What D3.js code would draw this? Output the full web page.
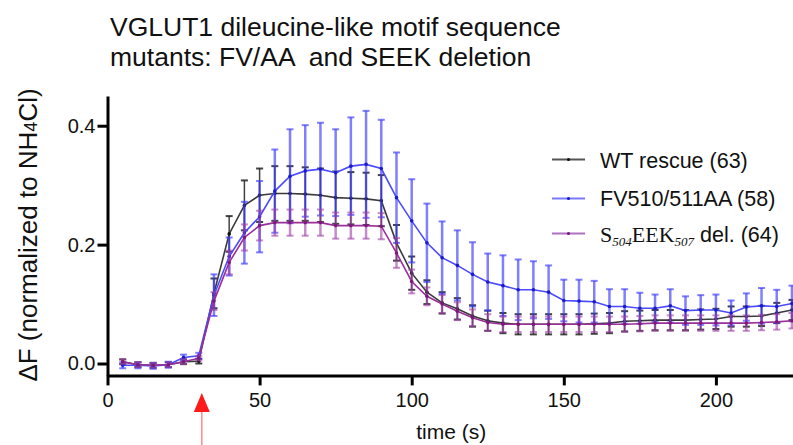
<!DOCTYPE html>
<html>
<head>
<meta charset="utf-8">
<script src="https://cdn.jsdelivr.net/npm/d3@7"></script>
<style>
  html, body { margin: 0; padding: 0; background: #fff; }
  svg { display: block; }
  text { font-family: "Liberation Sans", Arial, Helvetica, sans-serif; }
</style>
</head>
<body>
<svg id="chart" width="793" height="445"></svg>
<script>
// ---------- data ----------
const titleLines = ["VGLUT1 dileucine-like motif sequence", "mutants: FV/AA  and SEEK deletion"];
const times = [5,10,15,20,25,30,35,40,45,50,55,60,65,70,75,80,85,90,95,100,105,110,115,120,125,130,135,140,145,150,155,160,165,170,175,180,185,190,195,200,205,210,215,220,225];

const wtMean = [0.003,-0.002,-0.003,-0.002,0.003,0.004,0.118,0.218,0.266,0.283,0.286,0.286,0.285,0.283,0.279,0.278,0.277,0.274,0.203,0.152,0.120,0.102,0.092,0.080,0.072,0.068,0.066,0.066,0.066,0.066,0.066,0.067,0.068,0.071,0.072,0.073,0.073,0.073,0.074,0.075,0.079,0.079,0.080,0.085,0.090];
const wtErr  = [0.004,0.004,0.004,0.004,0.004,0.004,0.025,0.030,0.042,0.045,0.046,0.046,0.045,0.045,0.044,0.044,0.044,0.043,0.030,0.028,0.020,0.018,0.018,0.018,0.017,0.017,0.017,0.017,0.017,0.017,0.017,0.017,0.017,0.017,0.017,0.017,0.017,0.017,0.017,0.017,0.017,0.017,0.017,0.017,0.017];

const fvMean = [-0.003,-0.003,-0.004,-0.002,0.010,0.013,0.115,0.180,0.220,0.247,0.290,0.315,0.324,0.327,0.321,0.332,0.335,0.328,0.279,0.240,0.203,0.178,0.165,0.150,0.137,0.131,0.124,0.124,0.120,0.106,0.105,0.104,0.096,0.096,0.093,0.093,0.097,0.089,0.090,0.090,0.085,0.095,0.097,0.096,0.101];
const fvErr  = [0.005,0.005,0.005,0.005,0.005,0.005,0.035,0.032,0.052,0.060,0.070,0.079,0.077,0.078,0.073,0.082,0.090,0.082,0.076,0.070,0.066,0.061,0.059,0.054,0.048,0.051,0.051,0.048,0.045,0.035,0.036,0.035,0.029,0.029,0.026,0.023,0.028,0.024,0.025,0.026,0.021,0.023,0.030,0.028,0.030];

const seekMean = [0.003,-0.002,-0.003,-0.002,0.003,0.009,0.105,0.170,0.212,0.232,0.237,0.237,0.237,0.237,0.232,0.232,0.232,0.231,0.186,0.138,0.113,0.100,0.088,0.077,0.069,0.066,0.066,0.066,0.066,0.066,0.066,0.066,0.066,0.066,0.067,0.068,0.068,0.068,0.068,0.068,0.068,0.068,0.069,0.070,0.072];
const seekErr  = [0.004,0.004,0.004,0.004,0.004,0.004,0.015,0.020,0.022,0.025,0.022,0.022,0.022,0.022,0.022,0.022,0.022,0.022,0.025,0.020,0.015,0.015,0.015,0.014,0.014,0.013,0.013,0.013,0.013,0.013,0.013,0.013,0.013,0.013,0.013,0.013,0.013,0.013,0.013,0.013,0.013,0.013,0.013,0.013,0.013];

const xTicks = [0, 50, 100, 150, 200];
const yTicks = [0.0, 0.2, 0.4];
const stimulusTime = 31;

// ---------- setup ----------
const svg = d3.select("#chart");
const x = d3.scaleLinear().domain([0, 226]).range([107.5, 795]);
const y = d3.scaleLinear().domain([-0.02, 0.45]).range([375.4, 96]);

// title
svg.append("g").selectAll("text").data(titleLines).join("text")
  .attr("x", 110).attr("y", (d, i) => 36 + i * 30)
  .attr("font-size", 26.5).attr("fill", "#111")
  .style("white-space", "pre")
  .text(d => d);

// axes
const xAxis = svg.append("g").attr("transform", `translate(0,${y(-0.02)})`)
  .call(d3.axisBottom(x).tickValues(xTicks).tickFormat(d3.format("d")).tickSize(10).tickSizeOuter(0).tickPadding(7));
const yAxis = svg.append("g").attr("transform", `translate(${x(0)},0)`)
  .call(d3.axisLeft(y).tickValues(yTicks).tickFormat(d3.format(".1f")).tickSize(10).tickSizeOuter(0).tickPadding(2));
[xAxis, yAxis].forEach(g => {
  g.select(".domain").attr("stroke", "#000").attr("stroke-width", 3);
  g.selectAll(".tick line").attr("stroke", "#000").attr("stroke-width", 3);
  g.selectAll(".tick text").attr("font-size", 20).attr("fill", "#111")
    .style("font-family", '"Liberation Sans", Arial, sans-serif');
});

// axis labels
svg.append("text").attr("x", x(113)).attr("y", 439)
  .attr("text-anchor", "middle").attr("font-size", 21).attr("fill", "#111")
  .text("time (s)");

const yl = svg.append("text")
  .attr("transform", "translate(37,235) rotate(-90)")
  .attr("text-anchor", "middle").attr("font-size", 26).attr("fill", "#111");
yl.append("tspan").text("ΔF (normalized to NH");
yl.append("tspan").attr("font-size", 18).text("4");
yl.append("tspan").text("Cl)");

// series
const series = [
  { name: "WT", mean: wtMean, err: wtErr, line: "#3a3a3a", bar: "#222", barOp: 0.85, dot: "#111", legLine: "#555" },
  { name: "FV", mean: fvMean, err: fvErr, line: "#4a4aff", bar: "#3a3aff", barOp: 0.65, dot: "#1a1acc", legLine: "#7a7aff" },
  { name: "SEEK", mean: seekMean, err: seekErr, line: "#9a2e9a", bar: "#a040a8", barOp: 0.6, dot: "#7a1a7a", legLine: "#b070c0" }
];

const lineGen = d3.line().x(d => x(d.t)).y(d => y(d.v));

series.forEach(s => {
  const pts = times.map((t, i) => ({ t, v: s.mean[i], e: s.err[i] }));
  const g = svg.append("g");
  const eb = g.append("g").attr("stroke", s.bar).attr("stroke-opacity", s.barOp).attr("fill", "none");
  eb.selectAll("line.v").data(pts).join("line").attr("class", "v")
    .attr("x1", d => x(d.t)).attr("x2", d => x(d.t))
    .attr("y1", d => y(d.v - d.e)).attr("y2", d => y(d.v + d.e))
    .attr("stroke-width", s.name === "WT" ? 1.5 : 2.5);
  eb.selectAll("line.top").data(pts).join("line").attr("class", "top")
    .attr("x1", d => x(d.t) - 3.5).attr("x2", d => x(d.t) + 3.5)
    .attr("y1", d => y(d.v + d.e)).attr("y2", d => y(d.v + d.e)).attr("stroke-width", 2);
  eb.selectAll("line.bot").data(pts).join("line").attr("class", "bot")
    .attr("x1", d => x(d.t) - 3.5).attr("x2", d => x(d.t) + 3.5)
    .attr("y1", d => y(d.v - d.e)).attr("y2", d => y(d.v - d.e)).attr("stroke-width", 2);
  g.append("path").datum(pts).attr("d", lineGen)
    .attr("fill", "none").attr("stroke", s.line).attr("stroke-width", 1.6);
  g.selectAll("circle").data(pts).join("circle")
    .attr("cx", d => x(d.t)).attr("cy", d => y(d.v)).attr("r", 1.8).attr("fill", s.dot);
});

// legend
const legY = [159.5, 198.5, 233.5];
const legText = [167.5, 206, 241.5];
const leg = svg.append("g");
series.forEach((s, i) => {
  leg.append("line").attr("x1", 552).attr("x2", 585).attr("y1", legY[i]).attr("y2", legY[i])
    .attr("stroke", s.legLine).attr("stroke-width", 2.2);
  leg.append("circle").attr("cx", 568.5).attr("cy", legY[i]).attr("r", 1.6).attr("fill", s.dot);
});
leg.append("text").attr("x", 600).attr("y", legText[0]).attr("font-size", 21.5).attr("fill", "#111").text("WT rescue (63)");
leg.append("text").attr("x", 600).attr("y", legText[1]).attr("font-size", 21.5).attr("fill", "#111").text("FV510/511AA (58)");
const t3 = leg.append("text").attr("x", 600).attr("y", legText[2]).attr("font-size", 21.5).attr("fill", "#111");
t3.append("tspan").style("font-family", '"Liberation Serif", "Times New Roman", serif').attr("font-size", 22).text("S");
t3.append("tspan").style("font-family", '"Liberation Serif", "Times New Roman", serif').style("font-style", "italic").attr("font-size", 13).attr("dy", 4).text("504");
t3.append("tspan").style("font-family", '"Liberation Serif", "Times New Roman", serif').attr("font-size", 22).attr("dy", -4).text("EEK");
t3.append("tspan").style("font-family", '"Liberation Serif", "Times New Roman", serif').style("font-style", "italic").attr("font-size", 13).attr("dy", 4).text("507");
t3.append("tspan").attr("dy", -4).text(" del. (64)");

// stimulus arrow
const ax = x(stimulusTime);
svg.append("line").attr("x1", ax).attr("x2", ax).attr("y1", 410).attr("y2", 445)
  .attr("stroke", "#ff8a8a").attr("stroke-width", 1.5);
svg.append("path")
  .attr("d", `M${ax},393 L${ax + 8},412 L${ax - 8},412 Z`)
  .attr("fill", "#ff1a1a");
</script>
</body>
</html>
